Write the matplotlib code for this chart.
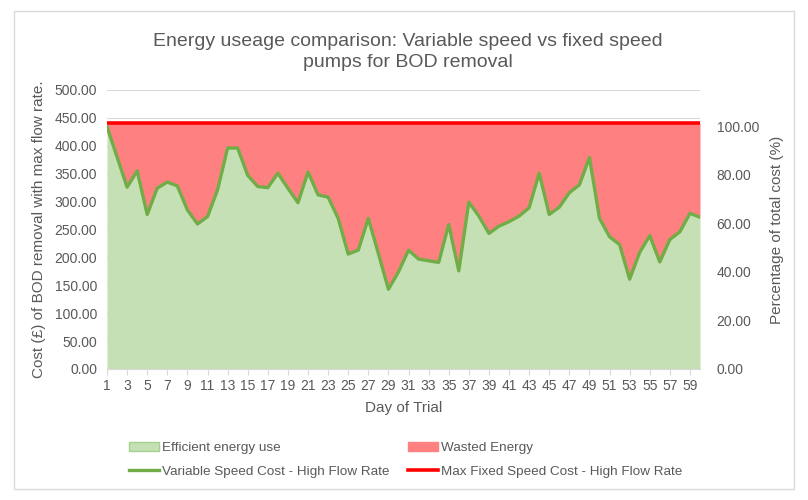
import numpy as np
import matplotlib
matplotlib.use("Agg")
import matplotlib.pyplot as plt
from matplotlib.patches import Patch, Rectangle
from matplotlib.lines import Line2D

# Данные
days = list(range(1, 61))
variable_cost = [434, 380, 326, 355, 277, 324, 335, 328, 285, 260,
                 273, 321, 396, 396, 347, 327, 325, 351, 324, 298,
                 353, 312, 308, 270, 206, 213, 270, 207, 143, 174,
                 213, 197, 194, 191, 259, 176, 299, 274, 243, 256,
                 264, 274, 289, 351, 277, 290, 316, 330, 379, 270,
                 237, 223, 161, 209, 239, 192, 232, 246, 279, 272]
max_fixed_cost = 441
left_ticks = list(range(0, 501, 50))
right_ticks = list(range(0, 101, 20))
x_tick_days = list(range(1, 61, 2))

title = "Energy useage comparison: Variable speed vs fixed speed\npumps for BOD removal"
text_col = "#595959"
grid_col = "#D9D9D9"

plt.rcParams['font.family'] = ['Liberation Sans', 'DejaVu Sans']

fig = plt.figure(figsize=(8.08, 5.0), dpi=100)
ax = fig.add_axes([107 / 808, 1 - 369 / 500, 593 / 808, 279 / 500])

# Области
ax.fill_between(days, 0, variable_cost, color="#C5E0B4", linewidth=0, zorder=2)
ax.fill_between(days, variable_cost, max_fixed_cost, color="#FF8080", linewidth=0, zorder=2)
ax.plot(days, variable_cost, color="#70AD47", linewidth=2.4, zorder=3)
ax.plot([days[0], days[-1]], [max_fixed_cost, max_fixed_cost], color="#FF0000",
        linewidth=2.6, zorder=4, solid_capstyle="butt")

ax.set_xlim(days[0], days[-1])
ax.set_ylim(0, 500)
ax.set_yticks(left_ticks)
ax.set_yticklabels([f"{v:.2f}" for v in left_ticks])
ax.set_xticks(x_tick_days)
ax.set_xticklabels([str(d) for d in x_tick_days])
ax.grid(axis="y", color=grid_col, linewidth=0.8, zorder=1)
ax.set_axisbelow(True)

for s in ["top", "left", "right"]:
    ax.spines[s].set_visible(False)
ax.spines["bottom"].set_color(grid_col)
ax.tick_params(axis="y", length=0, pad=7, labelsize=10, labelcolor=text_col)
ax.tick_params(axis="x", length=4, color=grid_col, pad=3, labelsize=10, labelcolor=text_col)

ax.set_xlabel("Day of Trial", fontsize=11, color=text_col, labelpad=6)
ax.set_ylabel("Cost (£) of BOD removal with max flow rate.", fontsize=11, color=text_col, labelpad=6)

ax2 = ax.twinx()
ax2.set_ylim(0, 115)
ax2.set_yticks(right_ticks)
ax2.set_yticklabels([f"{v:.2f}" for v in right_ticks])
for s in ["top", "left", "right", "bottom"]:
    ax2.spines[s].set_visible(False)
ax2.tick_params(axis="y", length=0, pad=12, labelsize=10, labelcolor=text_col)
ax2.set_ylabel("Percentage of total cost (%)", fontsize=11, color=text_col, labelpad=8)

fig.text(0.505, 1 - 52 / 500, title, ha="center", va="center", fontsize=14, color=text_col,
         linespacing=1.25)

handles = [
    Patch(facecolor="#C5E0B4", edgecolor="#A9D18E", label="Efficient energy use"),
    Line2D([], [], color="#70AD47", linewidth=2.4, label="Variable Speed Cost - High Flow Rate"),
    Patch(facecolor="#FF8080", edgecolor="#FF8080", label="Wasted Energy"),
    Line2D([], [], color="#FF0000", linewidth=2.6, label="Max Fixed Speed Cost - High Flow Rate"),
]
leg = fig.legend(handles=handles, ncol=2, loc="upper left", bbox_to_anchor=(129 / 808, 1 - 442 / 500),
                 frameon=False, fontsize=9.7, handlelength=2.25, handleheight=0.6,
                 handletextpad=0.2, columnspacing=1.35, labelspacing=0.85,
                 borderpad=0, borderaxespad=0)
for t in leg.get_texts():
    t.set_color(text_col)

fig.patches.append(Rectangle((14 / 808, 1 - 489 / 500), 780 / 808, 478 / 500,
                             transform=fig.transFigure, fill=False, edgecolor=grid_col, linewidth=1))

fig.savefig("out.png", dpi=100)
